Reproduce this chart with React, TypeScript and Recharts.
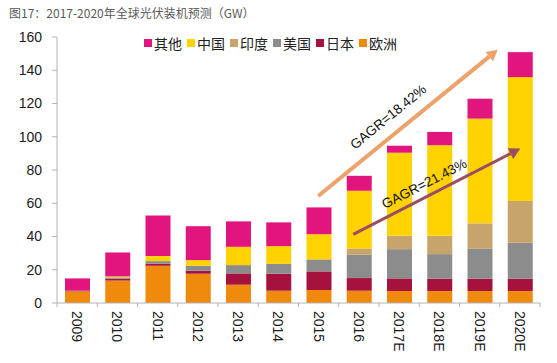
import { BarChart, Bar, XAxis, YAxis, Legend, ReferenceLine } from 'recharts'

// 2009 – 2020E global PV installations by region (GW)
const YEARS = ['2009', '2010', '2011', '2012', '2013', '2014', '2015', '2016', '2017E', '2018E', '2019E', '2020E']
const EUROPE = [7, 13.5, 22.4, 17.6, 11, 7.4, 7.8, 7.4, 7.2, 7.2, 7.2, 7.2]
const JAPAN = [0.5, 1.1, 1.2, 1.8, 6.8, 10.2, 11.2, 7.6, 7.6, 7.4, 7.4, 7.4]
const USA = [0, 0.8, 1.6, 3, 5, 6, 7.2, 14, 17.6, 14.8, 18, 21.6]
const INDIA = [0, 0, 0, 0, 0, 0, 0, 3.8, 8, 11, 15.3, 25.1]
const CHINA = [0, 0.6, 3, 3.4, 11, 10.6, 15.2, 34.7, 50, 54.5, 63, 74.6]
const OTHERS = [7.3, 14.4, 24.5, 20.4, 15.3, 14.3, 16.1, 9, 4.2, 8, 12, 15]

const Y_TICKS = [0, 20, 40, 60, 80, 100, 120, 140, 160]

// trend arrows, x in category-index units (0..12), y in GW
const TREND_LABELS = ['GAGR=18.42%', 'GAGR=21.43%']
const TREND_FROM = [[6.49, 64.4], [7.36, 41.3]]
const TREND_TO = [[10.95, 152.4], [11.51, 92.9]]

// stacking order, bottom first
const SERIES = [
	{ key: 'europe', name: '欧洲', values: EUROPE, color: '#EF8A0C' },
	{ key: 'japan', name: '日本', values: JAPAN, color: '#A5123D' },
	{ key: 'usa', name: '美国', values: USA, color: '#8C8C8C' },
	{ key: 'india', name: '印度', values: INDIA, color: '#C6A46C' },
	{ key: 'china', name: '中国', values: CHINA, color: '#FFD200' },
	{ key: 'others', name: '其他', values: OTHERS, color: '#E2157E' },
]

const TREND_STYLE = [
	{ color: '#EDA26C', width: 4, t: 0.45, off: 17 },
	{ color: '#9A4E62', width: 3, t: 0.46, off: 12.5 },
]

const data = YEARS.map((year, i) => {
	const row: Record<string, string | number> = { year, pos: i + 0.5 }
	SERIES.forEach((s) => {
		row[s.key] = s.values[i]
	})
	return row
})

const AXIS_COLOR = '#b4b4b4'
const NUM_FONT = '"Liberation Sans", Arial, sans-serif'
const CJK_FONT = '"Noto Sans CJK SC", "Noto Sans", sans-serif'

function YearTick(props: any) {
	const { x, y, payload, index, visibleTicksCount } = props
	const off = payload.offset || 20
	const last = index === (visibleTicksCount ?? YEARS.length) - 1
	return (
		<g>
			<line x1={x - off} y1={y} x2={x - off} y2={y + 4} stroke={AXIS_COLOR} />
			{last && <line x1={x + off} y1={y} x2={x + off} y2={y + 4} stroke={AXIS_COLOR} />}
			<text
				transform={`translate(${x},${y + 8}) rotate(90)`}
				textAnchor="start"
				dominantBaseline="central"
				fontSize={14}
				fontFamily={NUM_FONT}
				fill="#1a1a1a"
			>
				{payload.value}
			</text>
		</g>
	)
}

function makeArrow(i: number) {
	const st = TREND_STYLE[i]
	return (props: any) => {
		const { x1, y1, x2, y2 } = props
		const dx = x2 - x1
		const dy = y2 - y1
		const len = Math.sqrt(dx * dx + dy * dy)
		const ux = dx / len
		const uy = dy / len
		const head = 11
		const half = 6
		const bx = x2 - ux * head
		const by = y2 - uy * head
		const nx = uy
		const ny = -ux
		const px = x1 + dx * st.t + nx * st.off
		const py = y1 + dy * st.t + ny * st.off
		const deg = (Math.atan2(dy, dx) * 180) / Math.PI
		return (
			<g>
				<line x1={x1} y1={y1} x2={bx} y2={by} stroke={st.color} strokeWidth={st.width} />
				<polygon
					points={`${x2},${y2} ${bx + nx * half},${by + ny * half} ${bx - nx * half},${by - ny * half}`}
					fill={st.color}
				/>
				<text
					transform={`translate(${px},${py}) rotate(${deg})`}
					textAnchor="middle"
					dominantBaseline="central"
					fontSize={13.5}
					fontFamily={NUM_FONT}
					fill="#111"
				>
					{TREND_LABELS[i]}
				</text>
			</g>
		)
	}
}

function LegendContent() {
	return (
		<div style={{ display: 'flex', alignItems: 'center', fontFamily: CJK_FONT, fontSize: 14, color: '#222', lineHeight: '16px' }}>
			{[...SERIES].reverse().map((s) => (
				<div key={s.key} style={{ display: 'flex', alignItems: 'center', marginRight: 5 }}>
					<span style={{ width: 8, height: 8, background: s.color, marginRight: 2, display: 'inline-block' }} />
					<span>{s.name}</span>
				</div>
			))}
		</div>
	)
}

export default function App() {
	return (
		<div style={{ position: 'absolute', left: 0, top: 0, width: 557, height: 363, background: '#fff' }}>
			<div
				style={{
					position: 'absolute',
					left: 9,
					top: 6,
					fontFamily: CJK_FONT,
					fontSize: 12,
					lineHeight: '13px',
					color: '#5a5a5a',
					whiteSpace: 'nowrap',
				}}
			>
				图17：2017-2020年全球光伏装机预测（GW）
			</div>
			<BarChart width={557} height={363} data={data} margin={{ top: 37, right: 17, bottom: 0, left: 0 }}>
				<XAxis
					dataKey="year"
					height={60}
					interval={0}
					tickLine={false}
					tickSize={0}
					tickMargin={0}
					axisLine={{ stroke: AXIS_COLOR }}
					tick={<YearTick />}
				/>
				<XAxis xAxisId="idx" dataKey="pos" type="number" domain={[0, 12]} allowDataOverflow hide />
				<YAxis
					type="number"
					domain={[0, 160]}
					ticks={Y_TICKS}
					width={57}
					tickSize={5}
					tickMargin={10}
					axisLine={{ stroke: AXIS_COLOR }}
					tickLine={{ stroke: AXIS_COLOR }}
					tick={{ fontSize: 14, fontFamily: NUM_FONT, fill: '#1a1a1a' }}
				/>
				<Legend
					layout="horizontal"
					verticalAlign="middle"
					align="center"
					content={<LegendContent />}
					wrapperStyle={{ position: 'absolute', top: 35, left: 144, width: 'auto' }}
				/>
				{SERIES.map((s) => (
					<Bar
						key={s.key}
						dataKey={s.key}
						name={s.name}
						stackId="a"
						fill={s.color}
						barSize={25}
						isAnimationActive={false}
					/>
				))}
				{TREND_LABELS.map((label, i) => (
					<ReferenceLine
						key={label}
						xAxisId="idx"
						segment={[
							{ x: TREND_FROM[i][0], y: TREND_FROM[i][1] },
							{ x: TREND_TO[i][0], y: TREND_TO[i][1] },
						]}
						stroke={TREND_STYLE[i].color}
						shape={makeArrow(i)}
					/>
				))}
			</BarChart>
		</div>
	)
}
